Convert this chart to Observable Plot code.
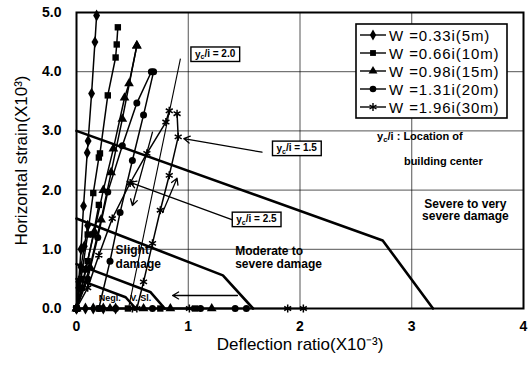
<!DOCTYPE html>
<html><head><meta charset="utf-8">
<script src="https://cdn.jsdelivr.net/npm/d3@7"></script>
<script src="https://cdn.jsdelivr.net/npm/@observablehq/plot@0.6"></script>
<style>
html,body{margin:0;padding:0;background:#fff;}
#chart{position:relative;width:529px;height:369px;}
</style></head><body><div id="chart"></div>
<script>
// ---------- data ----------
const seriesLabels = ["W =0.33i(5m)","W =0.66i(10m)","W =0.98i(15m)","W =1.31i(20m)","W =1.96i(30m)"];
const xTicks = [0,1,2,3,4];
const yTicks = [0,1,2,3,4,5];

// W = 0.33i
const w033A = [[0,0],[0.02,0.45],[0.04,1.0],[0.063,1.73],[0.096,2.63],[0.104,2.83],[0.135,3.63],[0.165,4.5],[0.18,4.95]];
const w033B = [[0,0],[0.02,0.35],[0.04,0.7],[0.07,1.05],[0.1,1.4]];
const w033C = [[0,0],[0.08,0],[0.15,0],[0.24,0],[0.35,0]];
// W = 0.66i
const w066A = [[0,0],[0.04,0.5],[0.1,1.25],[0.15,1.95],[0.2,2.55],[0.21,2.62],[0.28,3.6],[0.35,4.24],[0.36,4.46],[0.37,4.75]];
const w066B = [[0,0],[0.05,0.35],[0.1,0.8],[0.15,1.25],[0.2,1.75]];
const w066C = [[0,0],[0.2,0],[0.46,0],[0.75,0],[1.06,0]];
// W = 0.98i
const w098A = [[0,0],[0.08,0.65],[0.16,1.3],[0.24,2.0],[0.33,2.7],[0.43,3.56],[0.47,3.8],[0.54,4.44]];
const w098B = [[0,0],[0.12,0.7],[0.22,1.5],[0.31,2.3],[0.41,3.2],[0.54,4.44]];
const w098C = [[0,0],[0.3,0],[0.6,0],[0.84,0],[1.21,0]];
// W = 1.31i
const w131A = [[0,0],[0.1,0.5],[0.19,1.2],[0.28,1.97],[0.41,2.75],[0.54,3.47],[0.67,4.0]];
const w131B = [[0.2,0],[0.3,0.8],[0.39,1.62],[0.5,2.5],[0.6,3.27],[0.69,4.0]];
const w131C = [[0,0],[0.35,0],[0.68,0],[1.11,0],[1.42,0],[1.52,0]];
// W = 1.96i
const w196A = [[0,0],[0.1,0.35],[0.2,0.9],[0.32,1.52],[0.48,2.12],[0.63,2.62],[0.8,3.15],[0.83,3.34]];
const w196B = [[0.54,0],[0.6,0.45],[0.68,1.1],[0.75,1.66],[0.83,2.25],[0.91,2.9],[0.9,3.29]];
const w196C = [[0,0],[0.5,0],[1.01,0],[1.89,0],[2.03,0]];

// damage category limits
const limitSevere = [[0,3.0],[2.74,1.15],[3.19,0]];
const limitModerate = [[0,1.52],[1.31,0.56],[1.58,0]];
const limitSlight = [[0,0.75],[0.66,0.28],[0.79,0]];
const limitVerySlight = [[0,0.5],[0.44,0.19],[0.53,0]];

// annotation arrows (from -> to)
const arrowFrom = [[1.66,2.64],[1.39,1.50],[0.68,2.98],[0.77,1.62],[1.44,0.22]];
const arrowTo   = [[0.96,2.87],[0.48,2.13],[0.50,1.74],[0.90,2.20],[0.86,0.22]];
const pointerFrom = [[0.93,4.22]];
const pointerTo = [[0.47,0.05]];

const ycLabels = ["yc/i = 2.0","yc/i = 1.5","yc/i = 2.5"];
const ycLabelPos = [[1.24,4.29],[1.97,2.70],[1.61,1.50]];

const regionLabelsStart = ["Slight\ndamage","Moderate to\nsevere damage"];
const regionStartPos = [[0.35,0.69],[1.42,0.68]];
const regionLabelsMid = ["Severe to very\nsevere damage"];
const regionMidPos = [[3.48,1.49]];
const noteLabels = ["yc/i : Location of","building center"];
const notePos = [[2.69,2.84],[2.93,2.43]];
const smallLabels = ["Negl.","V. Sl."];
const smallPos = [[0.2,0.13],[0.48,0.13]];

// ---------- build tables ----------
const seriesCurves = [[w033A,w033B,w033C],[w066A,w066B,w066C],[w098A,w098B,w098C],[w131A,w131B,w131C],[w196A,w196B,w196C]];
const symbolTypes = ["diamond","square","triangle","circle","asterisk"];
const pts = [];
seriesCurves.forEach((curves,s)=>curves.forEach((c,k)=>c.forEach(([x,y])=>pts.push({s,id:s+"-"+k,x,y}))));
const limits = [];
[limitSevere,limitModerate,limitSlight,limitVerySlight].forEach((c,i)=>c.forEach(([x,y])=>limits.push({id:i,x,y})));
const arrows = arrowFrom.map((f,i)=>({x1:f[0],y1:f[1],x2:arrowTo[i][0],y2:arrowTo[i][1]}));
const pointers = pointerFrom.map((f,i)=>({x1:f[0],y1:f[1],x2:pointerTo[i][0],y2:pointerTo[i][1]}));
const tab = (labels,pos)=>labels.map((t,i)=>({t,x:pos[i][0],y:pos[i][1]}));

const dotMarks = symbolTypes.map((sym,s)=>{
  const d = pts.filter(p=>p.s===s);
  return sym==="asterisk"
    ? Plot.dot(d,{x:"x",y:"y",symbol:sym,r:3.8,stroke:"black",strokeWidth:1.5,fill:"none"})
    : Plot.dot(d,{x:"x",y:"y",symbol:sym,r:sym==="circle"?3.5:3.6,fill:"black",stroke:"none"});
});

const chart = Plot.plot({
  width:529, height:369,
  marginLeft:76, marginRight:6, marginTop:12, marginBottom:61,
  style:{fontFamily:"'Liberation Sans', Arial, sans-serif", background:"#fff", color:"#000"},
  x:{domain:[0,4]},
  y:{domain:[0,5]},
  marks:[
    Plot.gridX(xTicks.slice(1,-1),{stroke:"#000",strokeOpacity:0.85,strokeWidth:0.8}),
    Plot.gridY(yTicks.slice(1,-1),{stroke:"#000",strokeOpacity:0.85,strokeWidth:0.8}),
    Plot.line(limits,{x:"x",y:"y",z:"id",stroke:"black",strokeWidth:2.6}),
    Plot.line(pts,{x:"x",y:"y",z:"id",stroke:"black",strokeWidth:1.5}),
    ...dotMarks,
    Plot.link(pointers,{x1:"x1",y1:"y1",x2:"x2",y2:"y2",stroke:"black",strokeWidth:1.1}),
    Plot.arrow(arrows,{x1:"x1",y1:"y1",x2:"x2",y2:"y2",stroke:"black",strokeWidth:1.3,headLength:8}),
    Plot.text(tab(regionLabelsStart,regionStartPos),{x:"x",y:"y",text:"t",textAnchor:"start",lineAnchor:"bottom",lineHeight:1.1,fontSize:12,fontWeight:"bold",fill:"black"}),
    Plot.text(tab(regionLabelsMid,regionMidPos),{x:"x",y:"y",text:"t",textAnchor:"middle",lineAnchor:"bottom",lineHeight:1.05,fontSize:12,fontWeight:"bold",fill:"black"}),
    Plot.text(tab(noteLabels,notePos),{x:"x",y:"y",text:"t",textAnchor:"start",lineAnchor:"bottom",fontSize:11,fontWeight:"bold",fill:"black"}),
    Plot.text(tab(smallLabels,smallPos),{x:"x",y:"y",text:"t",textAnchor:"start",lineAnchor:"bottom",fontSize:9,fontWeight:"bold",fill:"black"}),
    Plot.text(tab(ycLabels,ycLabelPos),{x:"x",y:"y",text:"t",textAnchor:"middle",lineAnchor:"middle",fontSize:10,fontWeight:"bold",fill:"black"}),
    Plot.frame({stroke:"black",strokeWidth:2}),
    Plot.axisX({ticks:xTicks,tickSize:0,tickPadding:13,tickFormat:d=>String(d),fontSize:14,fontWeight:"bold",label:null}),
    Plot.axisY({ticks:yTicks,tickSize:0,tickPadding:15,tickFormat:d=>d.toFixed(1),fontSize:14,fontWeight:"bold",label:null}),
    Plot.text(["Deflection ratio(X10⁻³)"],{frameAnchor:"bottom",dy:36,text:d=>d,textAnchor:"middle",lineAnchor:"middle",fontSize:17,fill:"black"}),
    Plot.text(["Horizontal strain(X10³)"],{frameAnchor:"left",dx:-55,rotate:-90,text:d=>d,textAnchor:"middle",lineAnchor:"middle",fontSize:17,fill:"black"})
  ]
});
document.getElementById("chart").appendChild(chart);

const svg = d3.select(chart);
// subscript c in y_c/i texts, and boxes
svg.selectAll("text").each(function(){
  const el = d3.select(this);
  if (this.childElementCount) return;
  const t = this.textContent;
  if (t.startsWith("yc/i")) {
    const rest = t.slice(2);
    el.text(null);
    el.append("tspan").text("y");
    el.append("tspan").attr("font-size","0.7em").attr("dy","0.25em").text("c");
    el.append("tspan").attr("dy","-0.25em").text(rest);
    if (t.includes("=")) {
      const b = this.getBBox();
      d3.select(this.parentNode).insert("rect",()=>this)
        .attr("x",b.x-4).attr("y",b.y-1).attr("width",b.width+8).attr("height",b.height+2)
        .attr("fill","white").attr("stroke","black").attr("stroke-width",1.4)
        .attr("transform",this.getAttribute("transform"));
    }
  }
});

// legend
const lg = svg.append("g")
  .attr("font-family","'Liberation Sans', Arial, sans-serif")
  .attr("text-anchor","start");
lg.append("rect").attr("x",356).attr("y",24).attr("width",151).attr("height",94)
  .attr("fill","white").attr("stroke","black").attr("stroke-width",1.6);
const d3sym = {diamond:d3.symbolDiamond,square:d3.symbolSquare,triangle:d3.symbolTriangle,circle:d3.symbolCircle,asterisk:d3.symbolAsterisk};
seriesLabels.forEach((lab,i)=>{
  const cy = 35 + i*18;
  lg.append("line").attr("x1",360).attr("x2",386).attr("y1",cy).attr("y2",cy).attr("stroke","black").attr("stroke-width",1.4);
  const sym = symbolTypes[i];
  lg.append("path").attr("transform",`translate(373,${cy})`)
    .attr("d",d3.symbol(d3sym[sym], sym==="asterisk"?45:34)())
    .attr("fill",sym==="asterisk"?"none":"black").attr("stroke","black").attr("stroke-width",sym==="asterisk"?1.4:0);
  lg.append("text").attr("x",389).attr("y",cy+5.5).attr("font-size",15).attr("letter-spacing","0.9px")
    .attr("text-anchor","start").attr("fill","black").text(lab);
});
</script></body></html>
